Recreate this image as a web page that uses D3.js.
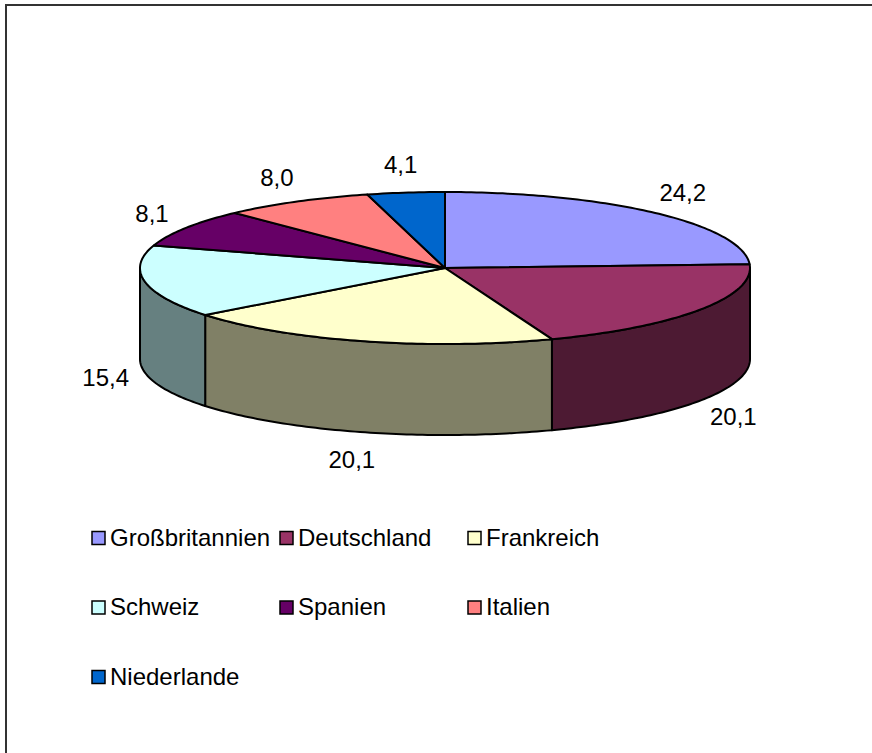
<!DOCTYPE html>
<html>
<head>
<meta charset="utf-8">
<script src="https://cdn.jsdelivr.net/npm/d3@7"></script>
<style>
  html, body { margin: 0; padding: 0; background: #fff; }
  svg { display: block; }
  text { font-family: "Liberation Sans", Arial, sans-serif; fill: #000; }
</style>
</head>
<body>
<svg id="chart" width="872" height="753"></svg>
<script>
// ---- data ----
const categories = ["Großbritannien", "Deutschland", "Frankreich", "Schweiz", "Spanien", "Italien", "Niederlande"];
const values = [24.2, 20.1, 20.1, 15.4, 8.1, 8.0, 4.1];
const labels = ["24,2", "20,1", "20,1", "15,4", "8,1", "8,0", "4,1"];
const colors = ["#9999FF", "#993366", "#FFFFCC", "#CCFFFF", "#660066", "#FF8080", "#0066CC"];

// ---- layout ----
const W = 872, H = 753;
const cx = 445, cy = 268, rx = 305, ry = 76, depth = 91;
const fontSize = 24;

const svg = d3.select("#chart");

// chart frame (right / bottom edges fall outside the window)
svg.append("rect")
  .attr("x", 6).attr("y", 5)
  .attr("width", W + 20).attr("height", H + 20)
  .attr("fill", "none").attr("stroke", "#333").attr("stroke-width", 2);

const pie = d3.pie().sort(null).value(d => d).startAngle(0).endAngle(2 * Math.PI);
const arcs = pie(values);

function pt(theta, dy = 0, ex = 0, ey = 0) {
  return [cx + (rx + ex) * Math.sin(theta), cy - (ry + ey) * Math.cos(theta) + dy];
}
function arcPoints(a0, a1, dy = 0) {
  const n = Math.max(2, Math.ceil((a1 - a0) / (Math.PI / 180)));
  return d3.range(n + 1).map(i => pt(a0 + (a1 - a0) * i / n, dy));
}
const line = d3.line();

function sideColor(c) {
  const r = d3.rgb(c);
  return d3.rgb(r.r / 2, r.g / 2, r.b / 2).formatHex();
}

const g = svg.append("g");

// outer walls (front half only)
arcs.forEach((a, i) => {
  const a0 = Math.max(a.startAngle, Math.PI / 2);
  const a1 = Math.min(a.endAngle, 3 * Math.PI / 2);
  if (a0 >= a1) return;
  const top = arcPoints(a0, a1, 0);
  const bot = arcPoints(a0, a1, depth).reverse();
  g.append("path")
    .attr("d", line(top.concat(bot)) + "Z")
    .attr("fill", sideColor(colors[i]))
    .attr("stroke", "#000").attr("stroke-width", 2)
    .attr("stroke-linejoin", "round");
});

// top faces
arcs.forEach((a, i) => {
  const pts = [[cx, cy]].concat(arcPoints(a.startAngle, a.endAngle, 0));
  g.append("path")
    .attr("d", line(pts) + "Z")
    .attr("fill", colors[i])
    .attr("stroke", "#000").attr("stroke-width", 2)
    .attr("stroke-linejoin", "round");
});

// data labels
arcs.forEach((a, i) => {
  const mid = (a.startAngle + a.endAngle) / 2;
  const front = Math.cos(mid) < 0;
  const p = pt(mid, front ? depth : 0, 40, 28);
  svg.append("text")
    .attr("x", p[0]).attr("y", p[1])
    .attr("text-anchor", "middle")
    .attr("dominant-baseline", "central")
    .attr("font-size", fontSize)
    .text(labels[i]);
});

// legend
const legX = 92, legY = 537, colW = 188, rowH = 69.5, box = 13;
const leg = svg.append("g");
categories.forEach((c, i) => {
  const col = i % 3, row = Math.floor(i / 3);
  const x = legX + col * colW, y = legY + row * rowH;
  leg.append("rect")
    .attr("x", x).attr("y", y - box / 2 + 1)
    .attr("width", box).attr("height", box)
    .attr("fill", colors[i]).attr("stroke", "#000").attr("stroke-width", 1.5);
  leg.append("text")
    .attr("x", x + box + 5).attr("y", y)
    .attr("dominant-baseline", "central")
    .attr("font-size", fontSize)
    .text(c);
});
</script>
</body>
</html>
